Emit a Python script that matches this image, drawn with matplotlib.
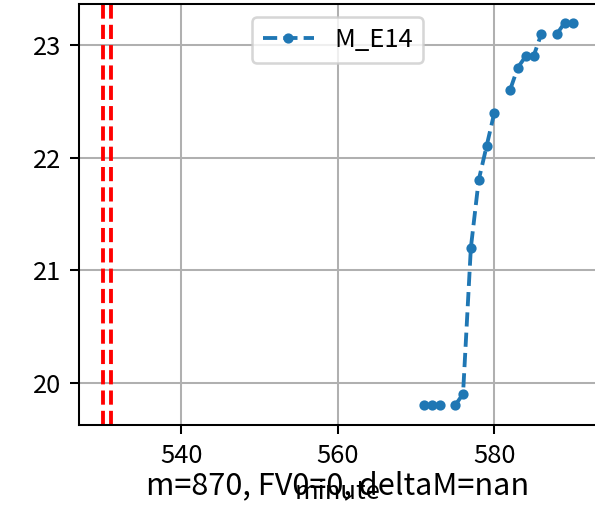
import matplotlib
matplotlib.use("Agg")
import matplotlib.pyplot as plt
import numpy as np

plt.rcParams['font.family'] = ['Noto Sans CJK SC', 'DejaVu Sans']
plt.rcParams['axes.unicode_minus'] = False

minute = [571, 572, 573, 574, 575, 576, 577, 578, 579, 580, 581,
          582, 583, 584, 585, 586, 587, 588, 589, 590]
m_e14 = [19.8, 19.8, 19.8, np.nan, 19.8, 19.9, 21.2, 21.8, 22.1, 22.4, np.nan,
         22.6, 22.8, 22.9, 22.9, 23.1, np.nan, 23.1, 23.2, 23.2]
marks = [530, 531]

DPI = 184
fig = plt.figure(figsize=(595 / DPI, 506 / DPI), dpi=DPI)
ax = fig.add_axes([0.1328, 0.160, 0.8692, 0.832])

ax.plot(minute, m_e14, '.--', label='M_E14')
for x in marks:
    ax.axvline(x, color='red', linestyle='--')

ax.set_xlim(526.97, 593.0)
ax.set_ylim(19.624, 23.364)
ax.set_xticks([540, 560, 580])
ax.set_yticks([20, 21, 22, 23])
ax.grid(True)
ax.legend(loc='upper center')
ax.set_xlabel('minute')

ax.text(0.5, -0.145, 'm=870, FV0=0, deltaM=nan', fontsize=12,
        ha='center', va='center', transform=ax.transAxes)

fig.savefig('out.png', dpi=DPI)
